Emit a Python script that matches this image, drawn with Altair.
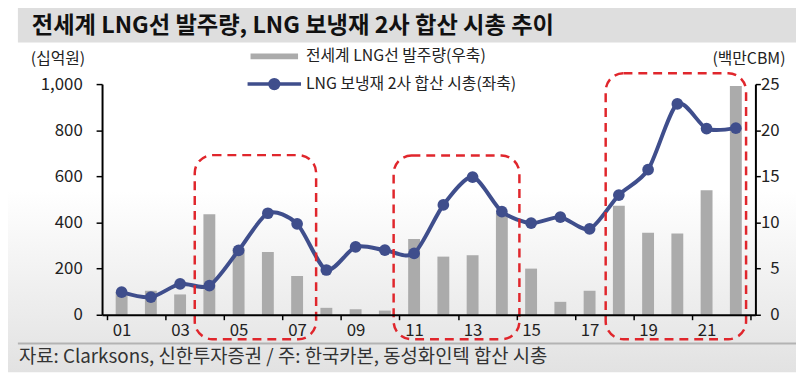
import altair as alt
import pandas as pd

# ---------------- data ----------------
years = list(range(1, 23))  # 2001 .. 2022
orders = [2.4, 2.6, 2.2, 10.9, 7.2, 6.8, 4.2, 0.75, 0.6, 0.45, 8.2, 6.3,
          6.45, 11.0, 5.0, 1.4, 2.6, 11.8, 8.9, 8.8, 13.5, 24.8]
mcap = [98, 76, 134, 126, 279, 440, 394, 194, 294, 280, 266, 476,
        597, 447, 397, 423, 372, 519, 629, 914, 807, 809]

bar_name = "전세계 LNG선 발주량(우축)"
line_name = "LNG 보냉재 2사 합산 시총(좌축)"
title_text = "전세계 LNG선 발주량, LNG 보냉재 2사 합산 시총 추이"
source_text = "자료: Clarksons, 신한투자증권 / 주: 한국카본, 동성화인텍 합산 시총"
left_unit = "(십억원)"
right_unit = "(백만CBM)"
left_ticks = [0, 200, 400, 600, 800, 1000]
right_ticks = [0, 5, 10, 15, 20, 25]

# highlight boxes (x in year index, y in left-axis units)
box_x0 = [3.5, 10.3, 17.55]
box_x1 = [7.65, 14.6, 22.35]
box_y0 = [-106, -106, -106]
box_y1 = [692, 690, 1047]

# ---------------- style ----------------
W, H = 660, 233
FONT = "Noto Sans CJK KR"
NAVY = "#3f4e8c"
GRAY = "#ababab"
RED = "#e0262c"
TXT = "#222222"

df = pd.DataFrame({"year": years, "orders": orders, "mcap": mcap,
                   "bar_s": bar_name, "line_s": line_name})
boxes = pd.DataFrame({"x0": box_x0, "x1": box_x1, "y0": box_y0, "y1": box_y1})
one = pd.DataFrame({"k": [0]})

tick_vals = [i + 0.5 for i in range(0, 23, 2)]
label_vals = list(range(1, 22, 2))
axis_vals = sorted(tick_vals + label_vals)

xscale = alt.Scale(domain=[0.5, 22.5], nice=False, zero=False)
xaxis = alt.Axis(
    values=axis_vals, title=None, grid=False, zindex=2,
    domainColor="black", domainWidth=2,
    tickColor="black", tickWidth=1.5, tickSize=5,
    tickOpacity={"condition": {"test": "datum.value % 1 == 0", "value": 0}, "value": 1},
    labelExpr="datum.value % 1 == 0 ? (datum.value < 10 ? '0' : '') + datum.value : ''",
    labelFont=FONT, labelFontSize=17, labelColor=TXT, labelPadding=3,
    labelOverlap=False, labelFlush=False, labelBound=False,
)

left_axis = alt.Axis(
    values=left_ticks, format=",.0f", grid=False, orient="left", zindex=2,
    domainColor="black", domainWidth=2, tickColor="black", tickWidth=1.5, tickSize=6,
    labelFont=FONT, labelFontSize=17, labelColor=TXT, labelPadding=14,
    title=left_unit, titleAngle=0, titleX=-45, titleY=-26, titleAlign="center",
    titleBaseline="middle", titleFont=FONT, titleFontSize=16, titleFontWeight="normal",
    titleColor=TXT,
)
right_axis = alt.Axis(
    values=right_ticks, format=".0f", grid=False, orient="right", zindex=2,
    domainColor="black", domainWidth=2, tickColor="black", tickWidth=1.5, tickSize=5,
    labelFont=FONT, labelFontSize=17, labelColor=TXT, labelPadding=19, labelAlign="right",
    title=right_unit, titleAngle=0, titleX=-7, titleY=-26, titleAlign="center",
    titleBaseline="middle", titleFont=FONT, titleFontSize=16, titleFontWeight="normal",
    titleColor=TXT,
)

# ---------------- decoration ----------------
bg = alt.Chart(one).mark_rect(
    color=alt.Gradient(
        gradient="linear",
        stops=[alt.GradientStop(color="#ffffff", offset=0),
               alt.GradientStop(color="#ffffff", offset=0.5),
               alt.GradientStop(color="#e2e2e2", offset=1)],
        x1=0, x2=0, y1=0, y2=1,
    )
).encode(x=alt.value(-95), x2=alt.value(W + 41), y=alt.value(-75), y2=alt.value(H + 58))

title_box = alt.Chart(one).mark_rect(color="#dedede").encode(
    x=alt.value(-85), x2=alt.value(W + 41), y=alt.value(-77), y2=alt.value(-42))
title = alt.Chart(one).mark_text(
    align="left", baseline="middle", font=FONT, fontSize=23.5, fontWeight="bold", color="#111111"
).encode(x=alt.value(-71), y=alt.value(-59), text=alt.value(title_text))

footer_line = alt.Chart(one).mark_rule(color="#b3b3b3", strokeWidth=2).encode(
    x=alt.value(-85), x2=alt.value(W + 41), y=alt.value(262))
footer = alt.Chart(one).mark_text(
    align="left", baseline="middle", font=FONT, fontSize=19, color="#333333"
).encode(x=alt.value(-84), y=alt.value(276), text=alt.value(source_text))

# ---------------- data marks ----------------
bars = alt.Chart(df).mark_bar(size=12).encode(
    x=alt.X("year:Q", scale=xscale, axis=xaxis),
    y=alt.Y("orders:Q", scale=alt.Scale(domain=[0, 25], nice=False), axis=right_axis),
    color=alt.Color(
        "bar_s:N", scale=alt.Scale(domain=[bar_name], range=[GRAY]),
        legend=alt.Legend(
            title=None, orient="none", legendX=166, legendY=-36, padding=0,
            symbolType="M-4.8,-0.6H4.8V0.6H-4.8Z", symbolSize=100, symbolStrokeWidth=0,
            labelFont=FONT, labelFontSize=16, labelColor=TXT, labelOffset=24, labelLimit=500,
        ),
    ),
)

line = alt.Chart(df).mark_line(
    interpolate="cardinal", tension=0.2, strokeWidth=4,
    point=alt.OverlayMarkDef(filled=True, size=140, color=NAVY, strokeWidth=0),
).encode(
    x=alt.X("year:Q", scale=xscale, axis=xaxis),
    y=alt.Y("mcap:Q", scale=alt.Scale(domain=[0, 1000], nice=False), axis=left_axis),
    stroke=alt.Stroke(
        "line_s:N", scale=alt.Scale(domain=[line_name], range=[NAVY]),
        legend=alt.Legend(
            title=None, orient="none", legendX=166, legendY=-8, padding=0,
            symbolType="M-5.4,0H5.4M0.9,0A0.9,0.9,0,1,1,-0.9,0A0.9,0.9,0,1,1,0.9,0Z",
            symbolSize=100, symbolStrokeWidth=3.5, symbolFillColor=NAVY,
            labelFont=FONT, labelFontSize=16, labelColor=TXT, labelOffset=24, labelLimit=500,
        ),
    ),
)

hl = alt.Chart(boxes).mark_rect(
    filled=False, color=RED, strokeWidth=2.5, strokeDash=[9, 6], cornerRadius=18
).encode(
    x=alt.X("x0:Q", scale=xscale, axis=xaxis),
    x2="x1:Q",
    y=alt.Y("y0:Q", scale=alt.Scale(domain=[0, 1000], nice=False), axis=None),
    y2="y1:Q",
)

chart = alt.layer(bg, title_box, title, footer_line, footer, bars, line, hl).resolve_scale(
    y="independent", color="independent", stroke="independent"
).properties(
    width=W, height=H,
    autosize=alt.AutoSizeParams(type="none"),
    padding={"left": 95, "top": 75, "right": 41, "bottom": 58},
).configure_view(stroke=None).configure(background="white")

chart.save("out.html", embed_options={"renderer": "svg", "actions": False})
